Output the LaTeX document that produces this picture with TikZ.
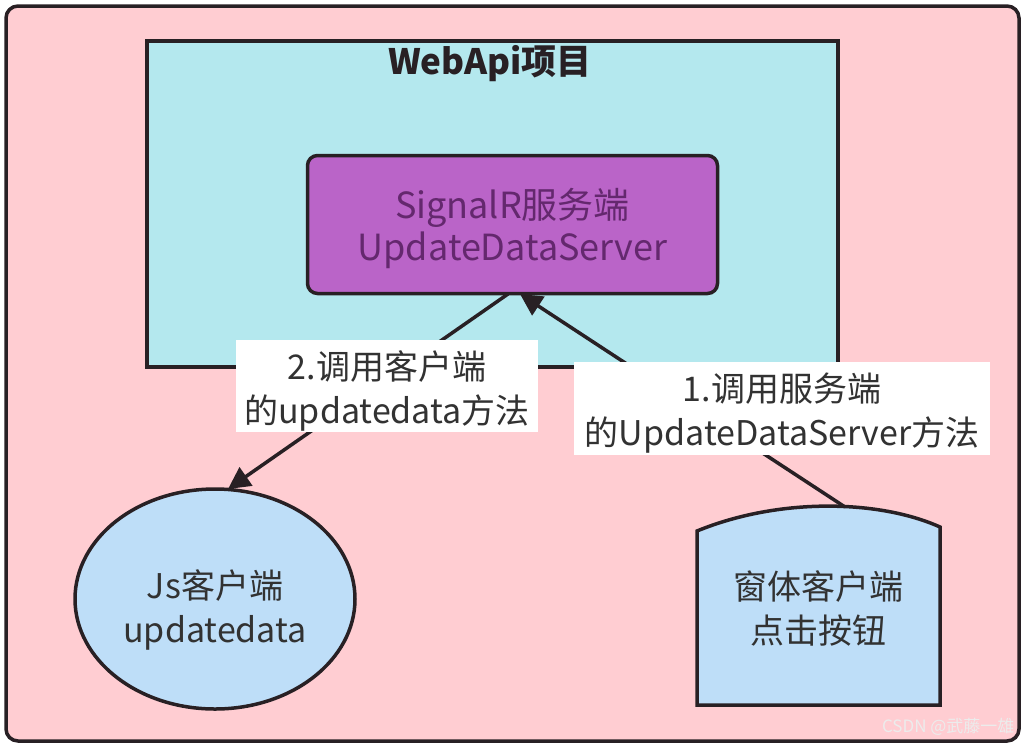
\documentclass[tikz,border=0pt]{standalone}
\usepackage{fontspec}
\setmainfont{Noto Sans CJK SC}
\usetikzlibrary{arrows.meta,shapes.geometric}
\definecolor{bgpink}{RGB}{255,205,210}
\definecolor{cyanbox}{RGB}{180,232,238}
\definecolor{purplebox}{RGB}{186,100,200}
\definecolor{purpletext}{RGB}{100,40,110}
\definecolor{lightblue}{RGB}{190,222,248}
\definecolor{edge}{RGB}{40,32,36}
\definecolor{textgray}{RGB}{50,50,50}
\tikzset{
  thickline/.style={draw=edge,line width=3.5pt},
  conn/.style={draw=edge,line width=3.5pt,-{Triangle[length=22pt,width=22pt]}},
  lblbox/.style={fill=white,inner sep=0pt},
  txt/.style={align=center,font=\fontsize{34}{44}\selectfont,text=textgray},
}
\begin{document}
\begin{tikzpicture}[x=1pt,y=-1pt]
\useasboundingbox (0,0) rectangle (1024,747);
\fill[white] (0,0) rectangle (1024,747);
% outer background
\draw[thickline,fill=bgpink,rounded corners=12pt] (6,6) rectangle (1019,741);
% WebApi box
\draw[thickline,fill=cyanbox] (147,41) rectangle (838,367);
\node[font=\fontsize{35}{40}\selectfont\bfseries,text=edge] (title) at (490,64) {WebApi项目};
% SignalR server
\node[thickline,fill=purplebox,rounded corners=10pt,minimum width=410pt,minimum height=138pt] (srv) at (512.5,224.5) {};
\node[align=center,font=\fontsize{36}{42}\selectfont,text=purpletext] (srvtext) at (512.5,228.5)
  {SignalR服务端\\UpdateDataServer};
% Js client
\node[thickline,fill=lightblue,ellipse,minimum width=280pt,minimum height=220pt] (js) at (215,599) {};
\node[txt] (jstext) at (215,610) {Js客户端\\updatedata};
% form client shape
\draw[thickline,fill=lightblue] (697,705) -- (697,531) .. controls (780,497) and (880,500) .. (940,527) -- (940,705) -- cycle;
\node[txt] (form) at (818,608) {窗体客户端\\点击按钮};
\coordinate (formtop) at (845,507);
\coordinate (srvA) at (508,294);
\coordinate (srvB) at (520,294);
\coordinate (jstop) at (228,489);
% connectors
\draw[conn] (srvA) -- (jstop);
\draw[conn] (formtop) -- (srvB);
% labels
\node[lblbox,minimum width=302pt,minimum height=92pt] (l2) at (387,386) {};
\node[txt] (l2text) at (387,391) {2.调用客户端\\的updatedata方法};
\node[lblbox,minimum width=416pt,minimum height=93pt] (l1) at (782,408.5) {};
\node[txt] (l1text) at (782,413) {1.调用服务端\\的UpdateDataServer方法};
% watermark
\node[font=\fontsize{17}{20}\selectfont,text=white!85!gray,anchor=east] (wm) at (1018,727) {CSDN @武藤一雄};
\end{tikzpicture}
\end{document}
